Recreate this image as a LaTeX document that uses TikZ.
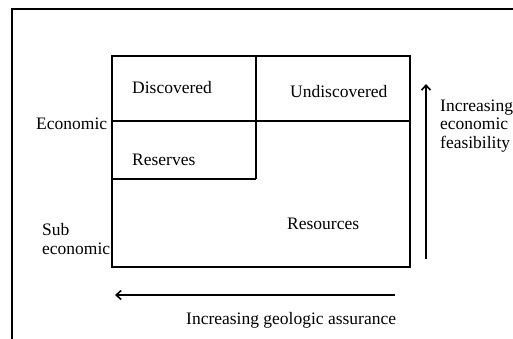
\documentclass[tikz,border=0pt]{standalone}
\usepackage{fontspec}
\setmainfont{Liberation Serif}
\usetikzlibrary{arrows.meta}
\begin{document}
\begin{tikzpicture}[x=1pt,y=-1pt,
  lbl/.style={inner sep=0pt,anchor=west,font=\fontsize{17.5}{18.5}\selectfont},
  boxline/.style={line width=1.8pt},
  arr/.style={line width=1.8pt,-{Straight Barb[length=5pt,width=9pt,line width=1.6pt]}}]
\useasboundingbox (0,0) rectangle (513,339);
% outer frame
\draw[line width=1.3pt] (12,339) -- (12,9) -- (513,9);
% main box
\coordinate (tl) at (112,56);
\coordinate (br) at (410,267);
\draw[boxline] (tl) rectangle (br);
\draw[boxline] (256,56) -- (256,179);
\draw[boxline] (112,121) -- (410,121);
\draw[boxline] (112,179) -- (256,179);
% labels
\node[lbl] (disc) at (132,88) {Discovered};
\node[lbl] (undisc) at (290,92) {Undiscovered};
\node[lbl] (res) at (132,160) {Reserves};
\node[lbl] (resour) at (287,224) {Resources};
\node[lbl] (econ) at (36,124) {Economic};
\node[lbl,align=left] (sub) at (42,239) {Sub\\economic};
\node[lbl,align=left] (feas) at (440,126) {Increasing\\economic\\feasibility};
\node[lbl] (geo) at (186,320) {Increasing geologic assurance};
% arrows
\coordinate (va) at (426,259);
\coordinate (vb) at (426,84);
\draw[arr] (va) -- (vb);
\coordinate (ha) at (395,295);
\coordinate (hb) at (115,295);
\draw[arr] (ha) -- (hb);
\end{tikzpicture}
\end{document}
